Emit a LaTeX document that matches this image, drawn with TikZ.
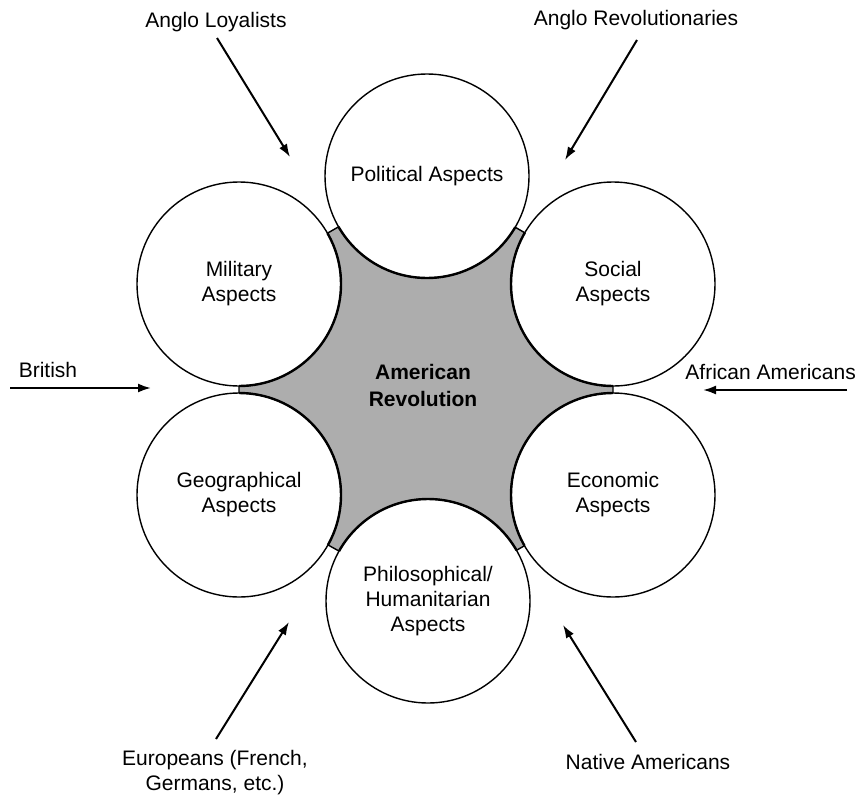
\documentclass[tikz,border=0pt]{standalone}
\usepackage{fontspec}
\setmainfont{Liberation Sans}
\usetikzlibrary{arrows.meta}
\definecolor{coregray}{gray}{0.68}
\begin{document}
\begin{tikzpicture}[x=1pt,y=-1pt,
  lbl/.style={font=\fontsize{21}{25}\selectfont, align=center, inner sep=0pt},
  aspect/.style={circle, minimum size=204pt, inner sep=0pt, fill=white, draw=black, line width=1.4pt, font=\fontsize{21}{25}\selectfont, align=center},
  infl/.style={-{Latex[length=13pt,width=9pt]}, line width=2pt},
  core/.style={font=\fontsize{21}{27}\bfseries\selectfont, align=center, inner sep=0pt}]
\useasboundingbox (0,0) rectangle (858,795);
% circle centres
\coordinate (cP) at (427,176);
\coordinate (cS) at (613,284);
\coordinate (cE) at (613,495);
\coordinate (cH) at (428,601);
\coordinate (cG) at (239,495);
\coordinate (cM) at (239,284);
% shaded core
\filldraw[fill=coregray, draw=black, line width=1.4pt] (cP) -- (cS) -- (cE) -- (cH) -- (cG) -- (cM) -- cycle;
% aspect circles
\node[aspect] (pol) at (cP) {Political Aspects};
\node[aspect] (soc) at (cS) {Social\\Aspects};
\node[aspect] (eco) at (cE) {Economic\\Aspects};
\node[aspect] (phi) at (cH) {Philosophical/\\Humanitarian\\Aspects};
\node[aspect] (geo) at (cG) {Geographical\\Aspects};
\node[aspect] (mil) at (cM) {Military\\Aspects};
% thicker inner arcs
\begin{scope}
  \clip (cP) -- (cS) -- (cE) -- (cH) -- (cG) -- (cM) -- cycle;
  \foreach \c in {cP,cS,cE,cH,cG,cM} \draw[line width=2.4pt] (\c) circle[radius=102];
\end{scope}
\node[core] (amrev) at (423,385) {American\\Revolution};
% influences
\node[lbl] (loy) at (216,22) {Anglo Loyalists};
\node[lbl] (rev) at (636,20) {Anglo Revolutionaries};
\node[lbl] (bri) at (48,370) {British};
\node[lbl, anchor=east] (afr) at (856,372) {African Americans};
\node[lbl] (eur) at (215,773) {Europeans (French,\\Germans, etc.)};
\node[lbl] (nat) at (648,762) {Native Americans};
\coordinate (loyS) at (217,38);  \coordinate (loyE) at (290,157);
\coordinate (revS) at (637,40);  \coordinate (revE) at (565,160);
\coordinate (briS) at (10,388);  \coordinate (briE) at (151,388);
\coordinate (afrS) at (847,390); \coordinate (afrE) at (703,390);
\coordinate (eurS) at (216,739); \coordinate (eurE) at (289,622);
\coordinate (natS) at (636,742); \coordinate (natE) at (563,625);
\draw[infl] (loyS) -- (loyE);
\draw[infl] (revS) -- (revE);
\draw[infl] (briS) -- (briE);
\draw[infl] (afrS) -- (afrE);
\draw[infl] (eurS) -- (eurE);
\draw[infl] (natS) -- (natE);
\end{tikzpicture}
\end{document}
